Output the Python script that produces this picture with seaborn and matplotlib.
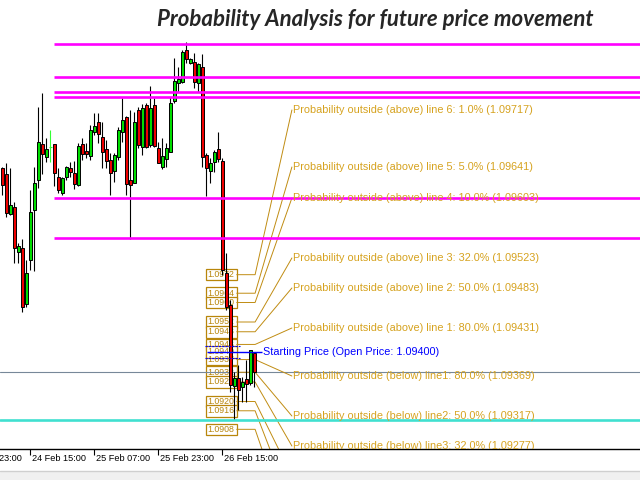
import pandas as pd
import matplotlib
matplotlib.use("Agg")
import matplotlib.pyplot as plt
from matplotlib.patches import Rectangle
from matplotlib.lines import Line2D
import seaborn as sns

# hourly candles, 24 Feb 08:00 -> 26 Feb 23:00
opens = [1.10154, 1.10130, 1.09966, 1.09995, 1.09810, 1.09826, 1.09597, 1.09777,
         1.09982, 1.10105, 1.10253, 1.10200, 1.10241, 1.10253, 1.10118, 1.10052,
         1.10118, 1.10154, 1.10134, 1.10085, 1.10253, 1.10224, 1.10204, 1.10302,
         1.10343, 1.10282, 1.10232, 1.10187, 1.10142, 1.10200, 1.10302, 1.10364,
         1.10105, 1.10093, 1.10392, 1.10241, 1.10413, 1.10249, 1.10413, 1.10236,
         1.10159, 1.10191, 1.10220, 1.10429, 1.10503, 1.10507, 1.10638, 1.10585,
         1.10589, 1.10503, 1.10569, 1.10208, 1.10142, 1.10179, 1.10232, 1.10183,
         1.09724, 1.09593, 1.09261, 1.09293, 1.09257, 1.09289, 1.09273, 1.09396]
highs = [1.10159, 1.10175, 1.10154, 1.10015, 1.09847, 1.09863, 1.09777, 1.10064,
         1.10159, 1.10404, 1.10462, 1.10277, 1.10310, 1.10253, 1.10154, 1.10118,
         1.10163, 1.10179, 1.10183, 1.10257, 1.10277, 1.10257, 1.10331, 1.10380,
         1.10380, 1.10343, 1.10269, 1.10216, 1.10216, 1.10323, 1.10441, 1.10368,
         1.10392, 1.10384, 1.10405, 1.10417, 1.10421, 1.10491, 1.10441, 1.10261,
         1.10277, 1.10257, 1.10446, 1.10605, 1.10569, 1.10638, 1.10671, 1.10605,
         1.10626, 1.10585, 1.10622, 1.10216, 1.10195, 1.10228, 1.10302, 1.10195,
         1.09806, 1.09613, 1.09318, 1.09347, 1.09298, 1.09367, 1.09408, 1.09396]
lows = [1.10044, 1.09954, 1.09962, 1.09765, 1.09765, 1.09564, 1.09585, 1.09736,
        1.09732, 1.10072, 1.10130, 1.10179, 1.10179, 1.10081, 1.10052, 1.10044,
        1.10105, 1.10118, 1.10068, 1.10081, 1.10187, 1.10195, 1.10187, 1.10290,
        1.10257, 1.10154, 1.10154, 1.10044, 1.10097, 1.10187, 1.10261, 1.10044,
        1.09863, 1.10093, 1.10236, 1.10208, 1.10236, 1.10241, 1.10241, 1.10175,
        1.10150, 1.10159, 1.10220, 1.10421, 1.10466, 1.10503, 1.10585, 1.10581,
        1.10482, 1.10466, 1.10159, 1.10040, 1.10093, 1.10138, 1.10179, 1.09716,
        1.09572, 1.09236, 1.09121, 1.09162, 1.09195, 1.09195, 1.09265, 1.09257]
closes = [1.10085, 1.09970, 1.10003, 1.09826, 1.09835, 1.09585, 1.09724, 1.09974,
          1.10093, 1.10261, 1.10212, 1.10232, 1.10241, 1.10134, 1.10064, 1.10113,
          1.10159, 1.10138, 1.10089, 1.10245, 1.10212, 1.10212, 1.10310, 1.10327,
          1.10294, 1.10220, 1.10183, 1.10134, 1.10208, 1.10310, 1.10351, 1.10089,
          1.10085, 1.10343, 1.10249, 1.10400, 1.10241, 1.10400, 1.10245, 1.10175,
          1.10204, 1.10236, 1.10421, 1.10511, 1.10519, 1.10630, 1.10601, 1.10601,
          1.10507, 1.10581, 1.10200, 1.10154, 1.10175, 1.10220, 1.10191, 1.09736,
          1.09585, 1.09265, 1.09293, 1.09244, 1.09277, 1.09269, 1.09408, 1.09318]

tick_pos = [-8, 8, 24, 40, 56]
tick_labels = ["23 Feb 23:00", "24 Feb 15:00", "25 Feb 07:00", "25 Feb 23:00", "26 Feb 15:00"]

# horizontal levels
magenta_levels = [1.10663, 1.10528, 1.10466, 1.10446, 1.10031, 1.09867]
cyan_level = 1.09121
bid_level = 1.09318

# probability lines
open_price = 1.09400
above_lines = [6, 5, 4, 3, 2, 1]
above_probs = [1.0, 5.0, 10.0, 32.0, 50.0, 80.0]
above_prices = [1.09717, 1.09641, 1.09603, 1.09523, 1.09483, 1.09431]
below_lines = [1, 2, 3, 4, 5, 6]
below_probs = [80.0, 50.0, 32.0, 10.0, 5.0, 1.0]
below_prices = [1.09369, 1.09317, 1.09277, 1.09197, 1.09159, 1.09083]

# label rows (pixels from top of chart)
above_rows = [110, 167, 198, 258, 288, 328]
below_rows = [376, 416, 446, 476, 506, 536]
start_row = 352

df = pd.DataFrame({"open": opens, "high": highs, "low": lows, "close": closes})
df["x"] = range(1, len(df) + 1)

sns.set_style("white")
plt.rcParams["font.family"] = ["Liberation Sans", "DejaVu Sans"]

fig = plt.figure(figsize=(6.4, 4.8), dpi=100)
ax = fig.add_axes([0, 31 / 480, 1, 449 / 480])
ax.set_xlim(0.425, 160.425)
ax.set_ylim(1.090023, 1.108432)
y0, y1 = ax.get_ylim()


def row_to_price(row):
    return y1 - row / 449 * (y1 - y0)


GOLD_TXT = "#d6a21e"
GOLD_LN = "#c08c12"
BOX_L, BOX_R, BEND, LABEL_X = 51.8, 59.6, 64.2, 73.7
box_h = 11.5 / 449 * (y1 - y0)

# candles
for _, r in df.iterrows():
    doji = r.open == r.close
    ax.vlines(r.x, r.low, r.high, color="#33ff33" if doji else "black", lw=0.8, zorder=3)
    if doji:
        ax.hlines(r.open, r.x - 0.4, r.x + 0.4, color="#33ff33", lw=0.8, zorder=3)
        continue
    up = r.close > r.open
    ax.bar(r.x, abs(r.close - r.open), bottom=min(r.open, r.close), width=0.65,
           color="#00dd00" if up else "#ee0000", edgecolor="black", linewidth=0.7, zorder=4)

# level lines
for lv in magenta_levels:
    ax.hlines(lv, 13.9, 160.4, color="#ff00ff", lw=1.9, zorder=5)
ax.axhline(cyan_level, color="#40e0d0", lw=1.9, zorder=5)
ax.axhline(bid_level, color="#778899", lw=0.8, zorder=2)

# price boxes, leader lines and labels
entries = []
for n, pr, p, row in zip(above_lines, above_probs, above_prices, above_rows):
    entries.append((p, row, f"Probability outside (above) line {n}: {pr:.1f}% ({p:.5f})"))
for n, pr, p, row in zip(below_lines, below_probs, below_prices, below_rows):
    entries.append((p, row, f"Probability outside (below) line{n}: {pr:.1f}% ({p:.5f})"))

for p, row, txt in entries + [(open_price, start_row, None)]:
    ax.add_patch(Rectangle((BOX_L, p - box_h / 2), BOX_R - BOX_L, box_h, facecolor="white",
                           edgecolor="#b8860b", lw=0.9, zorder=1))
    ax.text((BOX_L + BOX_R) / 2, p, f"{p:.4f}", color="#b8860b", fontsize=6.3,
            ha="center", va="center", zorder=1.5, clip_on=True)

for p, row, txt in entries:
    ly = row_to_price(row)
    ax.add_line(Line2D([BOX_R, BEND, LABEL_X - 0.3], [p, p, ly], color=GOLD_LN, lw=0.7, zorder=2))
    if row < 449:  # labels further down fall below the visible chart
        ax.text(LABEL_X, ly, txt, color=GOLD_TXT, fontsize=7.8, ha="left", va="center",
                zorder=6, clip_on=True)

# starting price
ax.hlines(open_price, 52.2, 65.9, color="blue", lw=1.0, zorder=6)
ax.hlines([open_price + 0.00025, open_price - 0.00025], 51.7, 60.4, color="blue",
          lw=0.8, linestyles=(0, (2, 1)), zorder=6)
ax.text(66.2, row_to_price(start_row), f"Starting Price (Open Price: {open_price:.5f})",
        color="blue", fontsize=7.8, ha="left", va="center", zorder=6)

# time axis
sns.despine(ax=ax, left=True, right=True, top=True)
ax.spines["bottom"].set_color("black")
ax.spines["bottom"].set_linewidth(1.0)
ax.set_yticks([])
ax.set_xticks([t for t in tick_pos if t > 0.425], labels=[])
ax.tick_params(axis="x", direction="out", length=4.5, width=0.8, color="black", bottom=True)
for t, lab in zip(tick_pos, tick_labels):
    ax.text(t + 0.3, -5 / 449, lab, transform=ax.get_xaxis_transform(), fontsize=6.6,
            ha="left", va="top", color="black", clip_on=False)

fig.text(375 / 640, 1 - 20 / 480, "Probability Analysis for future price movement",
         ha="center", va="center", fontsize=16, fontweight="bold", fontstyle="italic",
         family=["Lato", "DejaVu Sans"])

fig.patches.append(Rectangle((0, 0), 1, 9 / 480, transform=fig.transFigure,
                             facecolor="#f0f0f0", edgecolor="none"))
fig.lines.append(Line2D([0, 1], [9 / 480, 9 / 480], transform=fig.transFigure,
                        color="#cfcfcf", lw=1))

fig.savefig("out.png", dpi=100)
